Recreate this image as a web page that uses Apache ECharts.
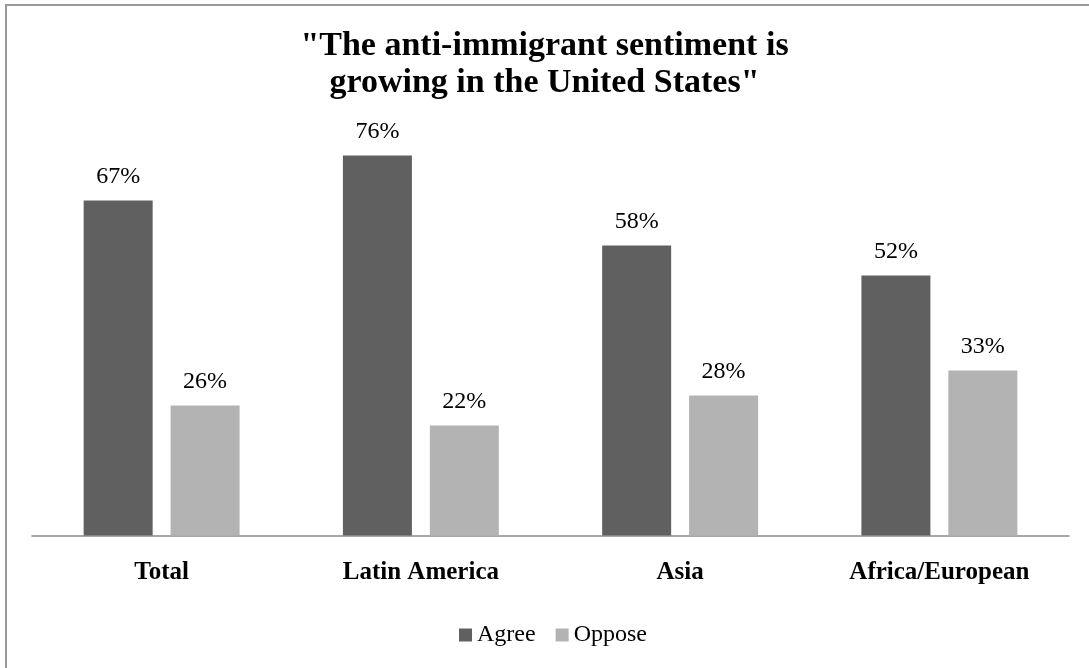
<!DOCTYPE html>
<html>
<head>
<meta charset="utf-8">
<title>Anti-immigrant sentiment</title>
<script src="https://cdn.jsdelivr.net/npm/echarts@6/dist/echarts.min.js"></script>
<style>
  html, body { margin: 0; padding: 0; background: #ffffff; }
  #chart { width: 1089px; height: 668px; }
</style>
</head>
<body>
<div id="chart"></div>
<script>
// Survey regions and the share (%) that agree / oppose the statement
const categories = ['Total', 'Latin America', 'Asia', 'Africa/European'];
const agree = [67, 76, 58, 52];
const oppose = [26, 22, 28, 33];
const seriesNames = ['Agree', 'Oppose'];
const titleLines = ['"The anti-immigrant sentiment is', 'growing in the United States"'];

const serif = '"Liberation Serif", "Times New Roman", Times, serif';

const chart = echarts.init(document.getElementById('chart'), null, { renderer: 'canvas' });

const labelStyle = {
  show: true,
  position: 'top',
  distance: 12,
  formatter: p => p.value + '%',
  fontFamily: serif,
  fontSize: 24,
  color: '#000'
};

chart.setOption({
  backgroundColor: '#ffffff',
  animation: false,
  graphic: [{
    type: 'rect',
    shape: { x: 6, y: 5, width: 1200, height: 800 },
    style: { fill: 'none', stroke: '#9a9a9a', lineWidth: 2 },
    silent: true
  }],
  title: {
    text: titleLines.join('\n'),
    left: 'center',
    top: 23,
    textStyle: {
      fontFamily: serif,
      fontWeight: 'bold',
      fontSize: 34,
      lineHeight: 37,
      color: '#000'
    }
  },
  legend: {
    data: seriesNames,
    bottom: 16,
    left: 454,
    itemWidth: 13,
    itemHeight: 13,
    itemGap: 20,
    icon: 'rect',
    textStyle: { fontFamily: serif, fontSize: 24, color: '#000' }
  },
  grid: { left: 32, right: 20, top: 135.5, bottom: 132.5, containLabel: false },
  xAxis: {
    type: 'category',
    data: categories,
    axisLine: { lineStyle: { color: '#8c8c8c', width: 1.5 } },
    axisTick: { show: false },
    axisLabel: {
      margin: 25,
      fontFamily: serif,
      fontWeight: 'bold',
      fontSize: 25,
      color: '#000'
    }
  },
  yAxis: {
    type: 'value',
    min: 0,
    max: 80,
    interval: 10,
    show: false,
    splitLine: { show: false }
  },
  series: [
    {
      name: seriesNames[0],
      type: 'bar',
      data: agree,
      barWidth: 69,
      barGap: '26%',
      itemStyle: { color: '#606060' },
      label: labelStyle
    },
    {
      name: seriesNames[1],
      type: 'bar',
      data: oppose,
      barWidth: 69,
      barGap: '26%',
      itemStyle: { color: '#b3b3b3' },
      label: labelStyle
    }
  ]
});
</script>
</body>
</html>
